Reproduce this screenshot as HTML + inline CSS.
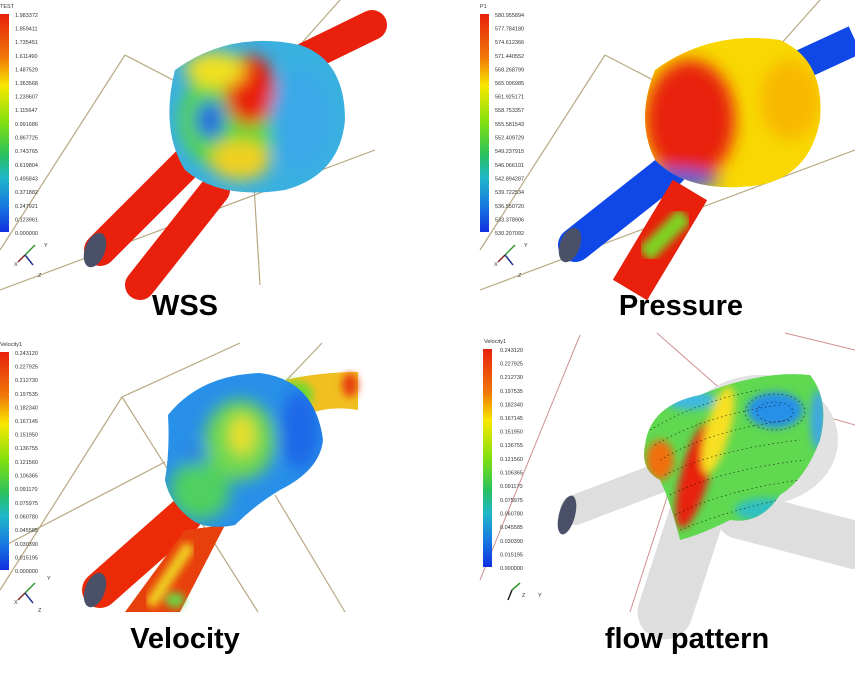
<!DOCTYPE html>
<html><head><meta charset="utf-8"><style>
body{margin:0;background:#fff;width:855px;height:676px;overflow:hidden}
svg text{font-family:"Liberation Sans",sans-serif}
.t{font-size:5.5px;fill:#333}
.lab{font-size:29px;font-weight:bold;fill:#000}
</style></head><body>
<svg width="855" height="676" viewBox="0 0 855 676" xmlns="http://www.w3.org/2000/svg">
<defs>
<linearGradient id="cb" x1="0" y1="0" x2="0" y2="1">
<stop offset="0" stop-color="#e8200c"/><stop offset="0.2" stop-color="#f07808"/><stop offset="0.33" stop-color="#f8e800"/><stop offset="0.5" stop-color="#80e010"/><stop offset="0.65" stop-color="#28c060"/><stop offset="0.75" stop-color="#20b8c8"/><stop offset="0.88" stop-color="#1878e0"/><stop offset="1" stop-color="#1030e0"/>
</linearGradient>
<filter id="b4"><feGaussianBlur stdDeviation="4"/></filter>
<filter id="b8"><feGaussianBlur stdDeviation="8"/></filter>
<clipPath id="c1"><path d="M175,70 Q230,30 300,45 Q345,60 345,120 Q340,175 285,190 Q220,200 185,170 Q160,130 175,70Z"/></clipPath>
<clipPath id="c2"><path d="M655,70 Q710,30 780,40 Q825,60 820,120 Q810,175 760,185 Q690,195 655,160 Q635,120 655,70Z"/></clipPath>
<clipPath id="c3"><path d="M168,415 Q200,375 260,373 Q315,380 323,440 Q320,470 280,490 Q255,505 235,525 Q210,530 195,522 Q170,505 165,480 Q170,450 168,415Z"/></clipPath>
<clipPath id="c4"><path d="M645,445 Q650,405 700,395 Q760,370 810,375 Q830,400 820,440 Q805,480 780,495 Q760,525 730,520 Q700,535 680,540 Q670,500 660,480 Q640,470 645,445Z"/></clipPath>
</defs>

<!-- TL panel -->
<g stroke="#b8a882" stroke-width="1.2" fill="none">
<line x1="0" y1="250" x2="125" y2="55"/><line x1="125" y1="55" x2="250" y2="120"/><line x1="0" y1="290" x2="375" y2="150"/><line x1="300" y1="45" x2="340" y2="0"/><line x1="250" y1="120" x2="260" y2="285"/>
</g>
<g stroke="#e8200c" stroke-linecap="round" fill="none">
<line x1="100" y1="250" x2="200" y2="150" stroke-width="32"/>
<line x1="140" y1="285" x2="215" y2="190" stroke-width="30"/>
<line x1="290" y1="65" x2="372" y2="25" stroke-width="30"/>
</g>
<ellipse cx="95" cy="250" rx="10" ry="18" fill="#4a5068" transform="rotate(20 95 250)"/>
<g clip-path="url(#c1)">
<rect x="150" y="20" width="210" height="190" fill="#3ab0e0"/>
<g filter="url(#b8)">
<ellipse cx="230" cy="120" rx="50" ry="50" fill="#58d838"/>
<ellipse cx="250" cy="90" rx="25" ry="35" fill="#e8200c"/>
<ellipse cx="210" cy="120" rx="15" ry="20" fill="#2870e0"/>
<ellipse cx="215" cy="70" rx="30" ry="18" fill="#f0e020"/>
<ellipse cx="300" cy="120" rx="30" ry="50" fill="#3aa8e8"/>
<ellipse cx="240" cy="160" rx="30" ry="20" fill="#f0d020"/>
</g></g>
<rect x="0" y="14" width="9" height="218" fill="url(#cb)"/>
<text x="0" y="8" class="t" font-size="7">TEST</text>
<g class="t"><text x="15" y="17">1.983372</text><text x="15" y="30.6">1.859411</text><text x="15" y="44">1.735451</text><text x="15" y="57.8">1.611490</text><text x="15" y="71.4">1.487529</text><text x="15" y="85">1.363568</text><text x="15" y="98.6">1.239607</text><text x="15" y="112">1.115647</text><text x="15" y="126">0.991686</text><text x="15" y="139.6">0.867725</text><text x="15" y="153">0.743765</text><text x="15" y="167">0.619804</text><text x="15" y="180.6">0.495843</text><text x="15" y="194">0.371882</text><text x="15" y="208">0.247921</text><text x="15" y="221.6">0.123961</text><text x="15" y="235">0.000000</text></g>
<g stroke-width="1.5"><line x1="25" y1="255" x2="35" y2="245" stroke="#339933"/><line x1="25" y1="255" x2="18" y2="262" stroke="#882222"/><line x1="25" y1="255" x2="33" y2="265" stroke="#223388"/></g>
<text x="44" y="247" class="t" fill="#7c7">Y</text><text x="14" y="266" class="t">X</text><text x="38" y="277" class="t">Z</text>

<!-- TR panel -->
<g stroke="#b8a882" stroke-width="1.2" fill="none">
<line x1="480" y1="250" x2="605" y2="55"/><line x1="605" y1="55" x2="730" y2="120"/><line x1="480" y1="290" x2="855" y2="150"/><line x1="780" y1="45" x2="820" y2="0"/>
</g>
<line x1="575" y1="245" x2="670" y2="170" stroke="#1048e8" stroke-width="34" stroke-linecap="round"/>
<line x1="790" y1="70" x2="855" y2="40" stroke="#1048e8" stroke-width="30"/>
<line x1="630" y1="290" x2="690" y2="190" stroke="#e8200c" stroke-width="40"/>
<g filter="url(#b4)"><line x1="645" y1="255" x2="685" y2="215" stroke="#80d020" stroke-width="18"/></g>
<ellipse cx="570" cy="245" rx="10" ry="18" fill="#4a5068" transform="rotate(20 570 245)"/>
<g clip-path="url(#c2)">
<rect x="630" y="20" width="210" height="190" fill="#f8d800"/>
<g filter="url(#b8)">
<ellipse cx="690" cy="120" rx="45" ry="60" fill="#e8200c"/>
<ellipse cx="670" cy="180" rx="50" ry="10" fill="#2060e0"/>
<ellipse cx="790" cy="100" rx="30" ry="40" fill="#f8b800"/>
</g></g>
<rect x="480" y="14" width="9" height="218" fill="url(#cb)"/>
<text x="480" y="8" class="t" font-size="7">P1</text>
<g class="t"><text x="495" y="17">580.955894</text><text x="495" y="30.6">577.784180</text><text x="495" y="44">574.612366</text><text x="495" y="57.8">571.440552</text><text x="495" y="71.4">568.268799</text><text x="495" y="85">565.096985</text><text x="495" y="98.6">561.925171</text><text x="495" y="112">558.753357</text><text x="495" y="126">555.581543</text><text x="495" y="139.6">552.409729</text><text x="495" y="153">549.237915</text><text x="495" y="167">546.066101</text><text x="495" y="180.6">542.894287</text><text x="495" y="194">539.722534</text><text x="495" y="208">536.550720</text><text x="495" y="221.6">533.378906</text><text x="495" y="235">530.207092</text></g>
<g stroke-width="1.5"><line x1="505" y1="255" x2="515" y2="245" stroke="#339933"/><line x1="505" y1="255" x2="498" y2="262" stroke="#882222"/><line x1="505" y1="255" x2="513" y2="265" stroke="#223388"/></g>
<text x="524" y="247" class="t">Y</text><text x="494" y="266" class="t">X</text><text x="518" y="277" class="t">Z</text>

<!-- BL panel -->
<g stroke="#b8a882" stroke-width="1.2" fill="none">
<line x1="0" y1="590" x2="122" y2="397"/><line x1="122" y1="397" x2="240" y2="343"/><line x1="0" y1="548" x2="165" y2="462"/><line x1="282" y1="385" x2="322" y2="343"/><line x1="122" y1="397" x2="258" y2="612"/><line x1="275" y1="495" x2="345" y2="612"/>
</g>
<line x1="100" y1="590" x2="185" y2="515" stroke="#ec2a08" stroke-width="36" stroke-linecap="round"/>
<path d="M125,612 L185,530 L225,525 L180,612Z" fill="#e8400c"/>
<g filter="url(#b4)"><line x1="150" y1="605" x2="190" y2="545" stroke="#f0d020" stroke-width="12"/><ellipse cx="175" cy="600" rx="10" ry="8" fill="#70d040"/></g>
<path d="M285,380 Q320,372 358,372 L358,410 Q330,405 305,415Z" fill="#f0c020"/>
<g filter="url(#b4)"><ellipse cx="295" cy="395" rx="18" ry="14" fill="#70d830"/><ellipse cx="350" cy="385" rx="8" ry="12" fill="#e84010"/></g>
<ellipse cx="95" cy="590" rx="10" ry="18" fill="#4a5068" transform="rotate(20 95 590)"/>
<g clip-path="url(#c3)">
<rect x="140" y="350" width="210" height="190" fill="#2890e8"/>
<g filter="url(#b8)">
<ellipse cx="240" cy="440" rx="35" ry="40" fill="#70d850"/>
<ellipse cx="242" cy="435" rx="12" ry="20" fill="#f0e020"/>
<ellipse cx="200" cy="490" rx="30" ry="30" fill="#50d060"/>
<ellipse cx="300" cy="430" rx="20" ry="40" fill="#1a68e8"/>
<ellipse cx="195" cy="455" rx="12" ry="10" fill="#2a80e0"/>
</g></g>
<rect x="0" y="352" width="9" height="218" fill="url(#cb)"/>
<text x="0" y="346" class="t" font-size="7">Velocity1</text>
<g class="t"><text x="15" y="355">0.243120</text><text x="15" y="368.6">0.227925</text><text x="15" y="382">0.212730</text><text x="15" y="395.8">0.197535</text><text x="15" y="409.4">0.182340</text><text x="15" y="423">0.167145</text><text x="15" y="436.6">0.151950</text><text x="15" y="450">0.136755</text><text x="15" y="464">0.121560</text><text x="15" y="477.6">0.106365</text><text x="15" y="491">0.091170</text><text x="15" y="505">0.075975</text><text x="15" y="518.6">0.060780</text><text x="15" y="532">0.045585</text><text x="15" y="546">0.030390</text><text x="15" y="559.6">0.015195</text><text x="15" y="573">0.000000</text></g>
<g stroke-width="1.5"><line x1="25" y1="593" x2="35" y2="583" stroke="#339933"/><line x1="25" y1="593" x2="18" y2="600" stroke="#882222"/><line x1="25" y1="593" x2="33" y2="603" stroke="#223388"/></g>
<text x="47" y="580" class="t" fill="#7c7">Y</text><text x="14" y="604" class="t">X</text><text x="38" y="612" class="t">Z</text>

<!-- BR panel -->
<g stroke="#d09090" stroke-width="1" fill="none">
<line x1="480" y1="580" x2="580" y2="335"/><line x1="657" y1="333" x2="716" y2="385"/><line x1="716" y1="385" x2="855" y2="425"/><line x1="785" y1="333" x2="855" y2="350"/><line x1="700" y1="395" x2="630" y2="612"/>
</g>
<g stroke="#dedede" fill="none" stroke-linecap="round">
<line x1="575" y1="510" x2="680" y2="470" stroke-width="30"/>
<line x1="665" y1="612" x2="695" y2="520" stroke-width="55"/>
<line x1="740" y1="515" x2="855" y2="545" stroke-width="48"/>
<ellipse cx="760" cy="440" rx="78" ry="65" fill="#e2e2e2" stroke="none"/>
</g>
<ellipse cx="567" cy="515" rx="8" ry="20" fill="#4a5068" transform="rotate(15 567 515)"/>
<g clip-path="url(#c4)">
<rect x="630" y="360" width="210" height="190" fill="#60d850"/>
<g filter="url(#b4)">
<ellipse cx="660" cy="460" rx="14" ry="20" fill="#f07010"/>
<ellipse cx="695" cy="475" rx="14" ry="55" fill="#e8200c" transform="rotate(15 695 475)"/>
<ellipse cx="718" cy="430" rx="12" ry="45" fill="#f8e020" transform="rotate(15 718 430)"/>
<ellipse cx="775" cy="410" rx="28" ry="18" fill="#2890e8"/>
<ellipse cx="765" cy="510" rx="30" ry="12" fill="#30c0c0"/>
<ellipse cx="690" cy="400" rx="25" ry="10" fill="#40b8e0"/>
<ellipse cx="818" cy="420" rx="8" ry="30" fill="#40a8e0"/>
</g>
<g stroke="#111" stroke-width="0.7" stroke-dasharray="1.5 3" fill="none" opacity="0.8">
<path d="M650,430 Q700,400 760,390"/><path d="M655,445 Q705,415 780,405"/><path d="M660,460 Q710,430 790,420"/><path d="M665,475 Q715,450 800,440"/><path d="M670,495 Q720,470 805,460"/><path d="M675,515 Q725,490 800,480"/><path d="M680,530 Q730,510 780,500"/><path d="M700,540 Q740,525 770,515"/>
<ellipse cx="775" cy="412" rx="18" ry="10"/><ellipse cx="775" cy="412" rx="30" ry="18"/>
</g></g>
<rect x="483" y="349" width="9" height="218" fill="url(#cb)"/>
<text x="484" y="343" class="t" font-size="7">Velocity1</text>
<g class="t"><text x="500" y="352">0.243120</text><text x="500" y="365.6">0.227925</text><text x="500" y="379">0.212730</text><text x="500" y="392.8">0.197535</text><text x="500" y="406.4">0.182340</text><text x="500" y="420">0.167145</text><text x="500" y="433.6">0.151950</text><text x="500" y="447">0.136755</text><text x="500" y="461">0.121560</text><text x="500" y="474.6">0.106365</text><text x="500" y="488">0.091170</text><text x="500" y="502">0.075975</text><text x="500" y="515.6">0.060780</text><text x="500" y="529">0.045585</text><text x="500" y="543">0.030390</text><text x="500" y="556.6">0.015195</text><text x="500" y="570">0.000000</text></g>
<g stroke-width="1.5"><line x1="512" y1="590" x2="520" y2="583" stroke="#339933"/><line x1="512" y1="590" x2="508" y2="600" stroke="#222"/></g>
<text x="522" y="597" class="t">Z</text><text x="538" y="597" class="t" fill="#7c7">Y</text>

<!-- labels -->
<text x="185" y="315" class="lab" text-anchor="middle">WSS</text>
<text x="681" y="315" class="lab" text-anchor="middle">Pressure</text>
<text x="185" y="648" class="lab" text-anchor="middle">Velocity</text>
<text x="687" y="648" class="lab" text-anchor="middle">flow pattern</text>
</svg>
</body></html>
